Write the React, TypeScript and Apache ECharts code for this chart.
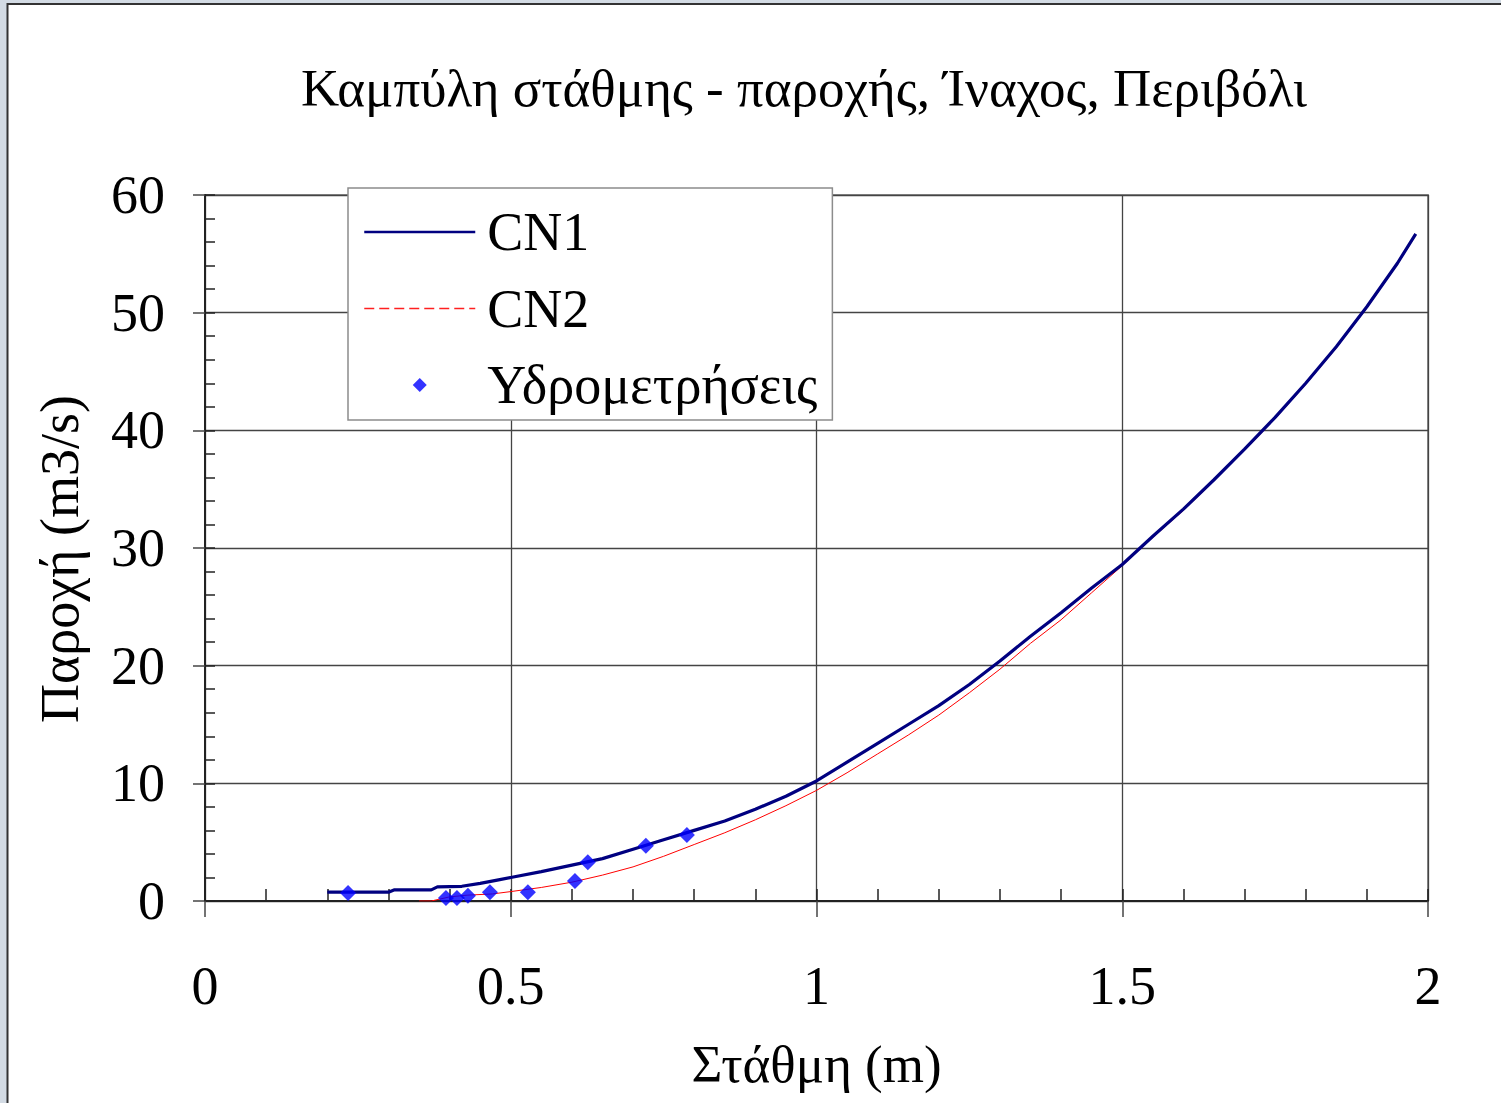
import React, { useEffect, useRef } from "react";
import * as echarts from "echarts";

const titleText = "Καμπύλη στάθμης - παροχής, Ίναχος, Περιβόλι";
const xName = "Στάθμη (m)";
const yName = "Παροχή (m3/s)";
const seriesNames = ["CN1", "CN2", "Υδρομετρήσεις"];

const cn1: number[][] = [
  [0.2, 0.75], [0.3, 0.75], [0.31, 0.95], [0.37, 0.95], [0.38, 1.2], [0.42, 1.25],
  [0.45, 1.5], [0.48, 1.8], [0.5, 2.0], [0.55, 2.5], [0.6, 3.05], [0.65, 3.6],
  [0.7, 4.4], [0.75, 5.2], [0.8, 6.0], [0.85, 6.8], [0.9, 7.8], [0.95, 8.9],
  [1.0, 10.2], [1.05, 11.8], [1.1, 13.4], [1.15, 15.0], [1.2, 16.6], [1.25, 18.4],
  [1.3, 20.4], [1.35, 22.5], [1.4, 24.5], [1.45, 26.6], [1.5, 28.6], [1.55, 31.0],
  [1.6, 33.3], [1.65, 35.8], [1.7, 38.4], [1.75, 41.1], [1.8, 44.0], [1.85, 47.1],
  [1.9, 50.5], [1.95, 54.2], [1.98, 56.7],
];

const cn2: number[][] = [
  [0.35, 0], [0.37, 0], [0.4, 0.35], [0.43, 0.5], [0.47, 0.6], [0.5, 0.8],
  [0.55, 1.15], [0.6, 1.6], [0.65, 2.2], [0.7, 2.9], [0.75, 3.8], [0.8, 4.8],
  [0.85, 5.8], [0.9, 6.9], [0.95, 8.1], [1.0, 9.4], [1.05, 10.9], [1.1, 12.5],
  [1.15, 14.1], [1.2, 15.8], [1.25, 17.7], [1.3, 19.7], [1.35, 21.9], [1.4, 23.9],
  [1.45, 26.2], [1.5, 28.5], [1.55, 30.9], [1.6, 33.2], [1.65, 35.7], [1.7, 38.3],
  [1.75, 41.0], [1.8, 43.9], [1.85, 47.0], [1.9, 50.4], [1.95, 54.1], [1.98, 56.6],
];

const measurements: number[][] = [
  [0.234, 0.68], [0.394, 0.25], [0.412, 0.25], [0.43, 0.45], [0.466, 0.75],
  [0.528, 0.75], [0.605, 1.7], [0.626, 3.3], [0.721, 4.7], [0.788, 5.6],
];

const FONT = "'Liberation Serif', 'Times New Roman', serif";

export default function App() {
  const ref = useRef<HTMLDivElement>(null);

  useEffect(() => {
    document.body.style.margin = "0";
    if (!ref.current) return;
    const chart = echarts.init(ref.current, undefined, { renderer: "svg" });
    chart.setOption({
      animation: false,
      backgroundColor: "#ffffff",
      textStyle: { fontFamily: FONT, color: "#000" },
      title: {
        text: titleText,
        left: 296,
        top: 56,
        textStyle: { fontFamily: FONT, fontSize: 53, fontWeight: "normal", color: "#000" },
      },
      grid: { left: 205, top: 195, right: 73, bottom: 202, show: true, borderColor: "#8c8c8c", borderWidth: 2, backgroundColor: "transparent" },
      legend: {
        orient: "vertical",
        left: 348,
        top: 188,
        padding: [17, 15, 8, 15],
        backgroundColor: "#ffffff",
        borderColor: "#8c8c8c",
        borderWidth: 1.5,
        itemWidth: 111,
        itemHeight: 14,
        itemGap: 22.5,
        symbolKeepAspect: true,
        textStyle: { fontFamily: FONT, fontSize: 54, color: "#000", lineHeight: 54, padding: [0, 0, 0, 7] },
        data: [
          { name: seriesNames[0], itemStyle: { opacity: 0 }, lineStyle: { color: "#000080", width: 2.5 } },
          { name: seriesNames[1], itemStyle: { opacity: 0 }, lineStyle: { color: "#ff2020", type: [10, 5], width: 1.5 } },
          { name: seriesNames[2], icon: "path://M0,-7L7,0L0,7L-7,0Z", itemStyle: { color: "#0000ff" } },
        ],
      },
      xAxis: [
        {
          type: "value",
          min: 0,
          max: 2,
          interval: 0.5,
          name: xName,
          nameLocation: "middle",
          nameGap: 136,
          nameTextStyle: { fontFamily: FONT, fontSize: 53, color: "#000" },
          axisLine: { show: true, onZero: false, lineStyle: { color: "#222", width: 2 } },
          axisTick: { show: true, inside: true, length: 12, lineStyle: { color: "#222", width: 1.5 } },
          minorTick: { show: true, splitNumber: 5, length: 12, lineStyle: { color: "#222", width: 1.5 } },
          axisLabel: { fontFamily: FONT, fontSize: 54, color: "#000", margin: 58 },
          splitLine: { show: true, lineStyle: { color: "#444", width: 1.3 } },
        },
        {
          type: "value",
          min: 0,
          max: 2,
          interval: 0.5,
          position: "bottom",
          axisLine: { show: false },
          axisTick: { show: true, inside: false, length: 16, lineStyle: { color: "#444", width: 1.5 } },
          axisLabel: { show: false },
          splitLine: { show: false },
        },
      ],
      yAxis: [
        {
          type: "value",
          min: 0,
          max: 60,
          interval: 10,
          name: yName,
          nameLocation: "middle",
          nameGap: 118,
          nameTextStyle: { fontFamily: FONT, fontSize: 54, color: "#000", padding: [0, 22, 0, 0] },
          axisLine: { show: true, onZero: false, lineStyle: { color: "#222", width: 2 } },
          axisTick: { show: true, inside: true, length: 10, lineStyle: { color: "#222", width: 1.5 } },
          minorTick: { show: true, splitNumber: 5, length: 10, lineStyle: { color: "#222", width: 1.5 } },
          axisLabel: { fontFamily: FONT, fontSize: 54, color: "#000", margin: 40, padding: [12, 0, 0, 0] },
          splitLine: { show: true, lineStyle: { color: "#444", width: 1.3 } },
        },
        {
          type: "value",
          min: 0,
          max: 60,
          interval: 10,
          position: "left",
          axisLine: { show: false },
          axisTick: { show: true, inside: false, length: 12, lineStyle: { color: "#444", width: 1.5 } },
          axisLabel: { show: false },
          splitLine: { show: false },
        },
      ],
      series: [
        {
          name: seriesNames[0],
          type: "line",
          data: cn1,
          symbol: "none",
          lineStyle: { color: "#000080", width: 3.2 },
          itemStyle: { color: "#000080" },
          z: 3,
        },
        {
          name: seriesNames[1],
          type: "line",
          data: cn2,
          symbol: "none",
          lineStyle: { color: "#ff0000", width: 1 },
          itemStyle: { color: "#ff0000" },
          z: 2,
        },
        {
          name: seriesNames[2],
          type: "scatter",
          data: measurements,
          symbol: "diamond",
          symbolSize: 16,
          itemStyle: { color: "#0000ff" },
          z: 4,
        },
      ],
      graphic: [
        { type: "rect", shape: { x: 0, y: 0, width: 7, height: 1103 }, style: { fill: "#d3dbe4" }, silent: true },
        { type: "rect", shape: { x: 0, y: 0, width: 1501, height: 3 }, style: { fill: "#d3dbe4" }, silent: true },
        { type: "line", shape: { x1: 7.5, y1: 3, x2: 7.5, y2: 1103 }, style: { stroke: "#333", lineWidth: 2 }, silent: true },
        { type: "line", shape: { x1: 7, y1: 4, x2: 1501, y2: 4 }, style: { stroke: "#333", lineWidth: 2 }, silent: true },
      ],
    });
    return () => chart.dispose();
  }, []);

  return <div ref={ref} style={{ width: 1501, height: 1103 }} />;
}
